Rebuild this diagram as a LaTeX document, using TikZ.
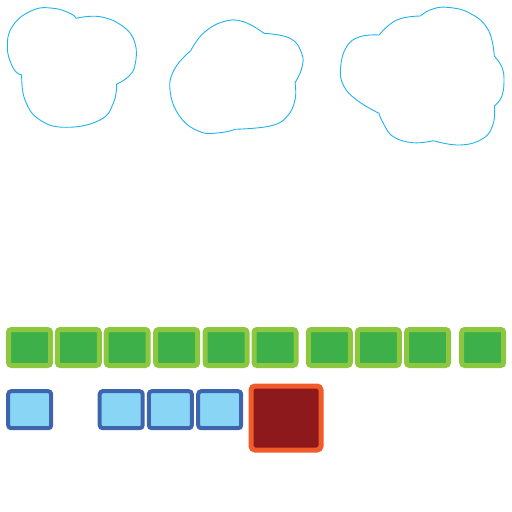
\documentclass[tikz,border=0pt]{standalone}
\usetikzlibrary{calc}
\definecolor{gfill}{HTML}{3DB04A}
\definecolor{gline}{HTML}{8DC63F}
\definecolor{bfill}{HTML}{89D5F6}
\definecolor{bline}{HTML}{3F64AE}
\definecolor{rfill}{HTML}{8E191C}
\definecolor{rline}{HTML}{F15A29}
\definecolor{cloudline}{HTML}{1FB3EC}
\tikzset{
  gbox/.style={draw=gline, fill=gfill, line width=5pt, rounded corners=3pt, minimum width=42pt, minimum height=36pt, inner sep=0pt},
  bbox/.style={draw=bline, fill=bfill, line width=4pt, rounded corners=3pt, minimum width=43pt, minimum height=37pt, inner sep=0pt},
  rbox/.style={draw=rline, fill=rfill, line width=5pt, rounded corners=4pt, minimum width=70pt, minimum height=64pt, inner sep=0pt},
  cloudstroke/.style={draw=cloudline, line width=0.9pt, line join=round},
  bump/.style={smooth, tension=0.75}
}
\begin{document}
\begin{tikzpicture}[x=1pt, y=-1pt]
\useasboundingbox (0,0) rectangle (512,512);
% clouds
\draw[cloudstroke] plot[bump] coordinates {(76,18.3) (100,16.7) (123.3,26.7) (135,43.3) (135,65) (128.3,76.7) (116.7,84)};
\draw[cloudstroke] plot[bump] coordinates {(116.7,84) (113.3,103.3) (100,120) (66.7,127.3) (40,120) (25,100) (21.7,75)};
\draw[cloudstroke] plot[bump] coordinates {(21.7,75) (13.3,68.3) (7.3,46.7) (13.3,25) (33.3,10) (53.3,8.3) (70,13.3) (76,18.3)};
\draw[cloudstroke] plot[bump] coordinates {(190.7,50.7) (203.3,33.3) (223.3,21.7) (243.3,21.7) (264,33.3)};
\draw[cloudstroke] plot[bump] coordinates {(264,33.3) (290,38.3) (301.7,53.3) (301.7,68.3) (295,82.7)};
\draw[cloudstroke] plot[bump] coordinates {(295,82.7) (295,100) (286.7,116.7) (270,126) (235,129.3)};
\draw[cloudstroke] plot[bump] coordinates {(235,129.3) (220,132.7) (200,131.7) (180,116.7) (170,90) (175,68.3) (190.7,50.7)};
\draw[cloudstroke] plot[bump] coordinates {(379,35) (396.7,20) (420.7,16)};
\draw[cloudstroke] plot[bump] coordinates {(420.7,16) (430,10) (446.7,7.3) (470,13.3) (488.3,30) (494.3,56)};
\draw[cloudstroke] plot[bump] coordinates {(494.3,56) (501.7,66.7) (504,80) (501.7,96.7) (494.3,106)};
\draw[cloudstroke] plot[bump] coordinates {(494.3,106) (493.3,123.3) (483.3,138.3) (460,145) (433.3,140.7)};
\draw[cloudstroke] plot[bump] coordinates {(433.3,140.7) (413.3,142.7) (393.3,136.7) (383.3,123.3) (379,113.3)};
\draw[cloudstroke] plot[bump] coordinates {(379,113.3) (356.7,100) (343.3,85) (340.7,66.7) (346.7,46.7) (360,36.7) (379,35)};
% green row
\node[gbox] (g1) at (29.5,347.5) {};
\node[gbox] (g2) at (78.3,347.5) {};
\node[gbox] (g3) at (127.2,347.5) {};
\node[gbox] (g4) at (176.7,347.5) {};
\node[gbox] (g5) at (226,347.5) {};
\node[gbox] (g6) at (275,347.5) {};
\node[gbox] (g7) at (329.3,347.5) {};
\node[gbox] (g8) at (378.3,347.5) {};
\node[gbox] (g9) at (427.5,347.5) {};
\node[gbox] (g10) at (482.7,347.5) {};
% blue row
\node[bbox] (b1) at (29.7,409.7) {};
\node[bbox] (b2) at (121.2,409.7) {};
\node[bbox] (b3) at (170.3,409.7) {};
\node[bbox] (b4) at (219.7,409.7) {};
% red box
\node[rbox] (r1) at (286,418) {};
\end{tikzpicture}
\end{document}
